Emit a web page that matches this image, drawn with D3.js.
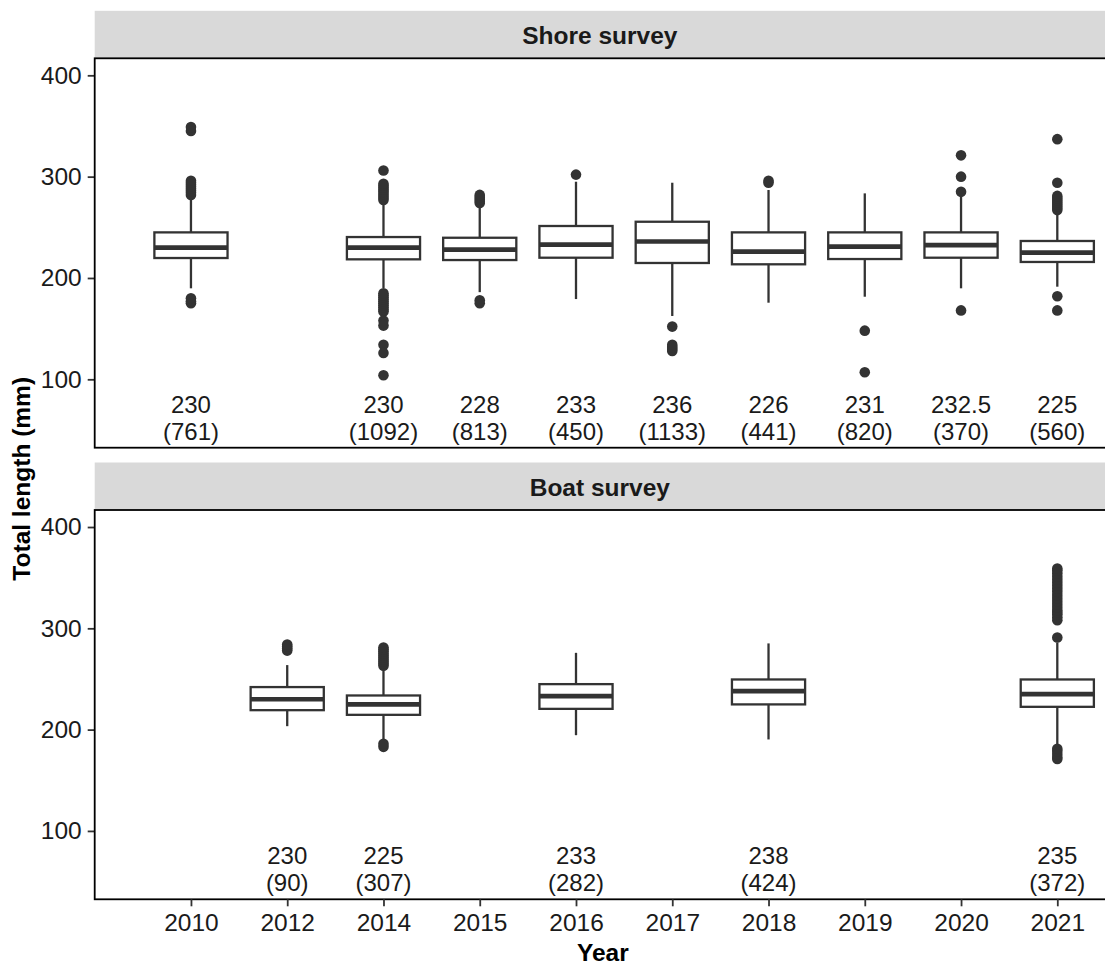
<!DOCTYPE html>
<html>
<head>
<meta charset="utf-8">
<script src="https://cdn.jsdelivr.net/npm/d3@7"></script>
<style>
  html, body { margin: 0; padding: 0; background: #fff; }
  svg { display: block; }
  text { font-family: "Liberation Sans", Arial, sans-serif; }
</style>
</head>
<body>
<svg id="chart" width="1105" height="965"></svg>
<script>
// ---------------- data ----------------
const years = ["2010","2012","2014","2015","2016","2017","2018","2019","2020","2021"];
const yTicks = [100, 200, 300, 400];

// Shore survey
const shoreYears  = ["2010","2014","2015","2016","2017","2018","2019","2020","2021"];
const shoreMedian = [230, 230, 228, 233, 236, 226, 231, 232.5, 225];
const shoreQ1     = [219.7, 218.4, 217.7, 220, 214.8, 213.5, 218.7, 220, 215.8];
const shoreQ3     = [245, 240.4, 239.7, 251.3, 255.5, 245, 245, 245, 236.5];
const shoreLow    = [189.8, 190, 186, 179.2, 162.5, 175.6, 181.5, 189.8, 191.4];
const shoreHigh   = [280, 273, 271, 295, 294, 286.8, 283.5, 280.2, 263];
const shoreN      = [761, 1092, 813, 450, 1133, 441, 820, 370, 560];
const shoreOut = [
  [282, 284, 286, 288, 290, 292, 294, 296, 345, 349, 175, 177, 180],
  [306, 277, 279, 281, 283, 285, 287, 289, 291, 293,
   167, 169, 171, 173, 175, 177, 179, 181, 183, 185, 158, 153, 134, 126, 104],
  [274, 276, 278, 280, 282, 175, 178],
  [302],
  [152, 128, 130, 132, 134],
  [294, 296],
  [148, 107],
  [321, 300, 285, 168],
  [337, 294, 267, 269, 271, 273, 275, 277, 279, 281, 182, 168]
];

// Boat survey
const boatYears  = ["2012","2014","2016","2018","2021"];
const boatMedian = [230, 225, 233, 238, 235];
const boatQ1     = [219.2, 214.6, 220.5, 224.9, 222.5];
const boatQ3     = [242, 233.7, 244.9, 249.5, 249.5];
const boatLow    = [203.4, 190, 194.5, 190.3, 185];
const boatHigh   = [263.7, 259, 275.8, 285.1, 286];
const boatN      = [90, 307, 282, 424, 372];
const boatOut = [
  [278, 280, 282, 284],
  [263, 265, 267, 269, 271, 273, 275, 277, 279, 281, 183, 186],
  [],
  [],
  [291, 308, 311, 314, 316, 318, 321, 324, 327, 330, 333, 336, 339, 342, 345,
   348, 351, 354, 357, 359, 171, 173, 176, 179, 181]
];

const labelValue = 67;   // data-unit position of the median/n label

// ---------------- layout ----------------
const W = 1105, H = 965;
const panelLeft = 94.7;
const unit = 96.26;
const panelRight = panelLeft + 11 * unit; // extends past the (cropped) canvas
const stripH = 47.5;
const panels = [
  { title: "Shore survey", top: 58.3, bottom: 447.7,
    cats: shoreYears, med: shoreMedian, q1: shoreQ1, q3: shoreQ3, lo: shoreLow, hi: shoreHigh, n: shoreN, out: shoreOut },
  { title: "Boat survey", top: 510, bottom: 899.3,
    cats: boatYears, med: boatMedian, q1: boatQ1, q3: boatQ3, lo: boatLow, hi: boatHigh, n: boatN, out: boatOut }
];

const ink = "#333333";
const svg = d3.select("#chart");
svg.append("rect").attr("width", W).attr("height", H).attr("fill", "#fff");

const x = d3.scalePoint().domain(years).range([panelLeft + unit, panelLeft + 10 * unit]);
const boxW = 0.76 * unit;

panels.forEach((p, pi) => {
  const y = d3.scaleLinear().domain([32.5, 416.8]).range([p.bottom, p.top]);
  const g = svg.append("g");

  // strip
  g.append("rect")
    .attr("x", panelLeft).attr("y", p.top - stripH)
    .attr("width", panelRight - panelLeft).attr("height", stripH)
    .attr("fill", "#D9D9D9");
  g.append("text")
    .attr("x", (panelLeft + W) / 2).attr("y", p.top - stripH / 2 + 9.5)
    .attr("text-anchor", "middle")
    .attr("font-size", 24.5).attr("font-weight", "bold").attr("fill", "#1a1a1a")
    .text(p.title);

  // y axis
  const yAxis = d3.axisLeft(y).tickValues(yTicks).tickSize(7).tickPadding(6).tickFormat(d3.format("d"));
  const ya = g.append("g").attr("transform", `translate(${panelLeft},0)`).call(yAxis);
  ya.select(".domain").remove();
  ya.selectAll(".tick line").attr("stroke", ink).attr("stroke-width", 1.8);
  ya.selectAll(".tick text").attr("font-size", 24.5).attr("fill", "#1a1a1a")
    .attr("font-family", "\"Liberation Sans\", Arial, sans-serif");

  // boxes
  const data = p.cats.map((c, i) => ({ c, med: p.med[i], q1: p.q1[i], q3: p.q3[i], lo: p.lo[i], hi: p.hi[i], n: p.n[i], out: p.out[i] }));
  const bg = g.selectAll("g.box").data(data).join("g").attr("class", "box");

  bg.append("line")
    .attr("x1", d => x(d.c)).attr("x2", d => x(d.c))
    .attr("y1", d => y(d.q3)).attr("y2", d => y(d.hi))
    .attr("stroke", ink).attr("stroke-width", 2.3);
  bg.append("line")
    .attr("x1", d => x(d.c)).attr("x2", d => x(d.c))
    .attr("y1", d => y(d.q1)).attr("y2", d => y(d.lo))
    .attr("stroke", ink).attr("stroke-width", 2.3);
  bg.append("rect")
    .attr("x", d => x(d.c) - boxW / 2).attr("width", boxW)
    .attr("y", d => y(d.q3)).attr("height", d => y(d.q1) - y(d.q3))
    .attr("fill", "#fff").attr("stroke", ink).attr("stroke-width", 2.3);
  bg.append("line")
    .attr("x1", d => x(d.c) - boxW / 2).attr("x2", d => x(d.c) + boxW / 2)
    .attr("y1", d => y(d.med)).attr("y2", d => y(d.med))
    .attr("stroke", ink).attr("stroke-width", 4.7);
  bg.selectAll("circle").data(d => d.out.map(v => ({ c: d.c, v }))).join("circle")
    .attr("cx", d => x(d.c)).attr("cy", d => y(d.v)).attr("r", 5.3).attr("fill", ink);

  // labels
  const lab = bg.append("text")
    .attr("text-anchor", "middle").attr("font-size", 24).attr("fill", "#1a1a1a")
    .attr("x", d => x(d.c)).attr("y", d => y(labelValue));
  lab.append("tspan").attr("x", d => x(d.c)).text(d => d.med);
  lab.append("tspan").attr("x", d => x(d.c)).attr("dy", 26.8).text(d => "(" + d.n + ")");

  // panel border
  g.append("rect")
    .attr("x", panelLeft).attr("y", p.top)
    .attr("width", panelRight - panelLeft).attr("height", p.bottom - p.top)
    .attr("fill", "none").attr("stroke", "#000").attr("stroke-width", 1.8);

  // x axis on bottom panel
  if (pi === panels.length - 1) {
    const xAxis = d3.axisBottom(x).tickSize(7).tickPadding(7);
    const xa = g.append("g").attr("transform", `translate(0,${p.bottom})`).call(xAxis);
    xa.select(".domain").remove();
    xa.selectAll(".tick line").attr("stroke", ink).attr("stroke-width", 1.8);
    xa.selectAll(".tick text").attr("font-size", 24.5).attr("fill", "#1a1a1a")
      .attr("font-family", "\"Liberation Sans\", Arial, sans-serif");
  }
});

// axis titles
svg.append("text")
  .attr("x", (panelLeft + W) / 2 + 3).attr("y", 961)
  .attr("text-anchor", "middle").attr("font-size", 24.5).attr("font-weight", "bold").attr("fill", "#000")
  .text("Year");
svg.append("text")
  .attr("transform", `translate(29.5,${(58.3 + 899.3) / 2}) rotate(-90)`)
  .attr("text-anchor", "middle").attr("font-size", 24.5).attr("font-weight", "bold").attr("fill", "#000")
  .text("Total length (mm)");
</script>
</body>
</html>
